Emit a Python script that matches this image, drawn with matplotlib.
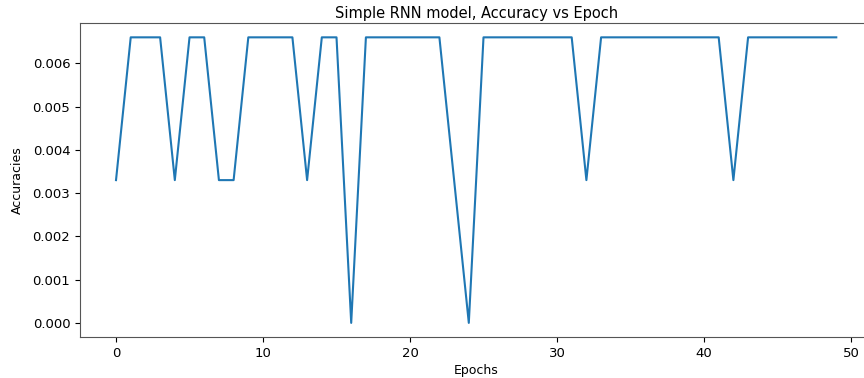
import matplotlib
matplotlib.use("Agg")
import matplotlib.pyplot as plt

# accuracy recorded after each training epoch
epochs = list(range(50))
accuracies = [
    0.0033, 0.0066, 0.0066, 0.0066, 0.0033, 0.0066, 0.0066, 0.0033, 0.0033, 0.0066,
    0.0066, 0.0066, 0.0066, 0.0033, 0.0066, 0.0066, 0.0000, 0.0066, 0.0066, 0.0066,
    0.0066, 0.0066, 0.0066, 0.0033, 0.0000, 0.0066, 0.0066, 0.0066, 0.0066, 0.0066,
    0.0066, 0.0066, 0.0033, 0.0066, 0.0066, 0.0066, 0.0066, 0.0066, 0.0066, 0.0066,
    0.0066, 0.0066, 0.0033, 0.0066, 0.0066, 0.0066, 0.0066, 0.0066, 0.0066, 0.0066,
]

fig = plt.figure(figsize=(8.64, 3.78), dpi=100)
ax = fig.add_axes([0.0926, 0.108, 0.917, 0.831])
ax.plot(epochs, accuracies, color="#1f77b4", lw=1.5)
ax.set_title("Simple RNN model, Accuracy vs Epoch", fontsize=10.5, pad=4)
ax.set_xlabel("Epochs", fontsize=9, labelpad=3)
ax.set_ylabel("Accuracies", fontsize=9, labelpad=6)
ax.tick_params(labelsize=9.5)
for s in ax.spines.values():
    s.set_color("#555555")

fig.savefig("out.png", dpi=100)
